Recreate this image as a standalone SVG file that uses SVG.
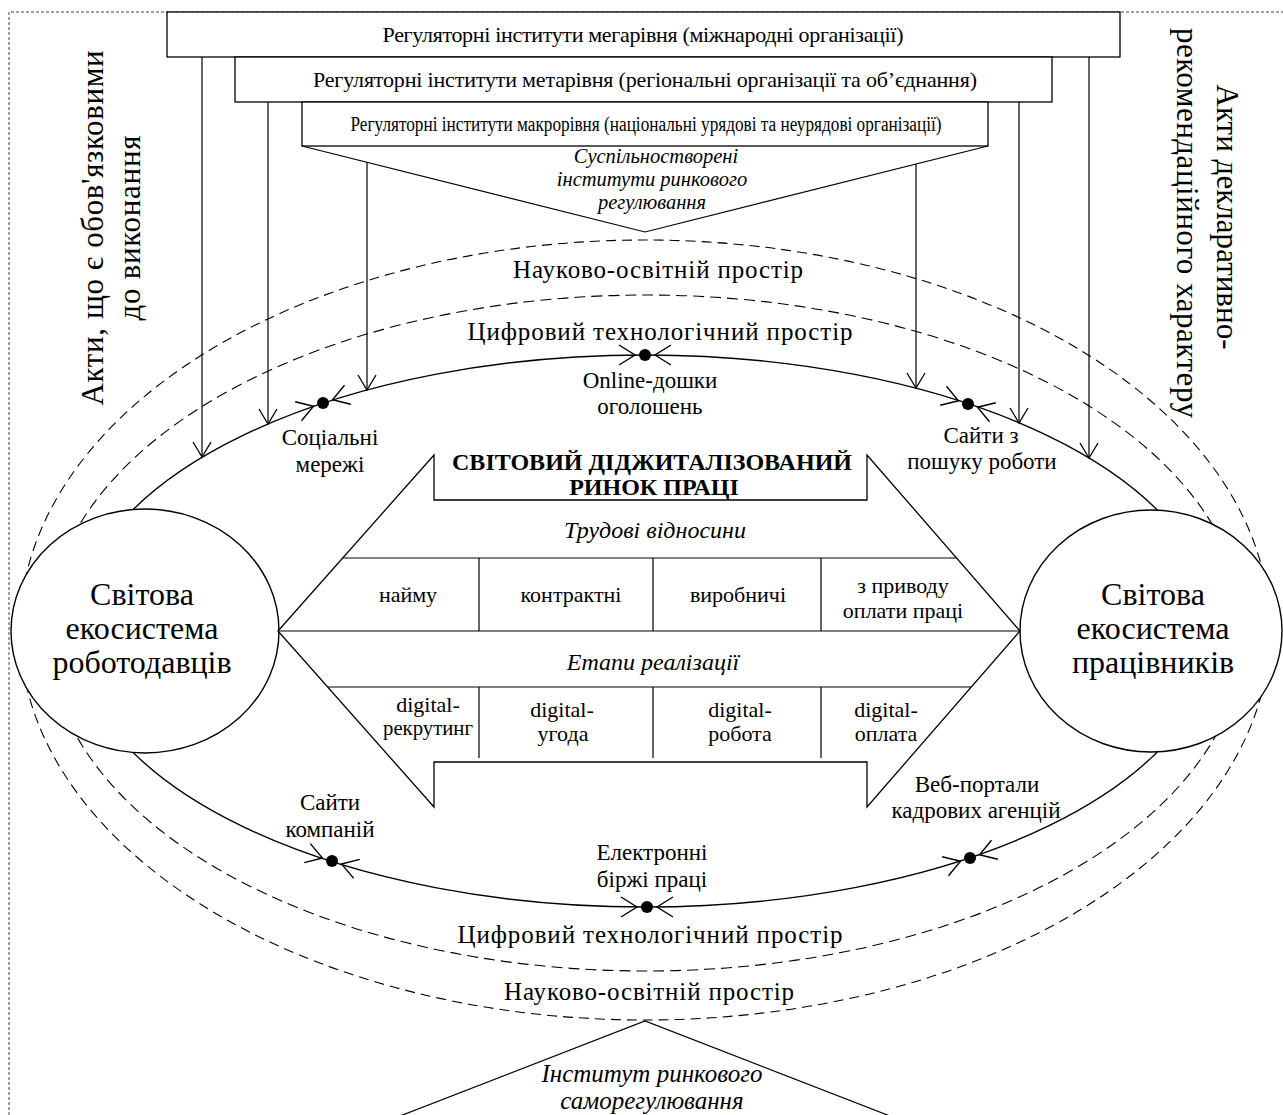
<svg xmlns="http://www.w3.org/2000/svg" width="1283" height="1115" viewBox="0 0 1283 1115">
<defs>
<style>
text{font-family:"Liberation Serif","Times New Roman",serif;fill:#000}
.box{fill:#fff;stroke:#000;stroke-width:1.3}
.ln{fill:none;stroke:#000;stroke-width:1.2}
.sol{fill:none;stroke:#000;stroke-width:1.4}
.d1{fill:none;stroke:#000;stroke-width:1.1;stroke-dasharray:11 6}
.d2{fill:none;stroke:#000;stroke-width:1.1;stroke-dasharray:10 6}
.circ{fill:#fff;stroke:#000;stroke-width:1.4}
.m{text-anchor:middle}
.i{font-style:italic}
.box-t{font-size:22px}
.sp{font-size:25px}
.lbl{font-size:23px}
.cell{font-size:22px}
.sec{font-size:24px;font-style:italic}
.inst{font-size:20.5px;font-style:italic}
.self{font-size:25px;font-style:italic}
.vert{font-size:31px}
.eco{font-size:32px}
.dot{fill:#000}
</style>
<path id="va" d="M-9,-15 L0,0 L9,-15" fill="none" stroke="#000" stroke-width="1.3"/>
<path id="da" d="M-16,-10 L0,0 L-16,10" fill="none" stroke="#000" stroke-width="1.4"/>
</defs>
<rect width="1283" height="1115" fill="#fff"/>
<path id="frame" d="M9,1115 V12 H1283" fill="none" stroke="#444" stroke-width="1" stroke-dasharray="3 2"/>

<g id="spaces">
<ellipse class="d2" cx="645" cy="630" rx="625" ry="390"/>
<ellipse class="d1" cx="646" cy="633" rx="598" ry="338"/>
<ellipse class="sol" cx="645" cy="631" rx="570" ry="276"/>
<text class="sp m" x="658" y="278" textLength="290">Науково-освітній простір</text>
<text class="sp m" x="660" y="340" textLength="385">Цифровий технологічний простір</text>
<text class="sp m" x="650" y="943" textLength="385">Цифровий технологічний простір</text>
<text class="sp m" x="649" y="1000" textLength="290">Науково-освітній простір</text>
</g>

<g id="employers">
<ellipse class="circ" cx="145" cy="631" rx="134" ry="122"/>
<text class="eco m" x="142" y="605">Світова</text>
<text class="eco m" x="142" y="639">екосистема</text>
<text class="eco m" x="142" y="673">роботодавців</text>
</g>

<g id="workers">
<ellipse class="circ" cx="1151" cy="631" rx="131" ry="121"/>
<text class="eco m" x="1153" y="605">Світова</text>
<text class="eco m" x="1153" y="639">екосистема</text>
<text class="eco m" x="1153" y="673">працівників</text>
</g>

<g id="market">
<path class="box" d="M278,631 L434,455 V500 H867 V455 L1020,631 L867,807 V762 H434 V807 Z"/>
<path class="ln" d="M343,558 H956 M278,631 H1020 M328,687 H971 M479,558 V631 M653,558 V631 M821,558 V631 M479,687 V758 M653,687 V758 M821,687 V758"/>
<text class="m" x="652" y="470" font-size="24" font-weight="bold" textLength="400">СВІТОВИЙ ДІДЖИТАЛІЗОВАНИЙ</text>
<text class="m" x="654" y="495" font-size="24" font-weight="bold">РИНОК ПРАЦІ</text>
<text class="sec m" x="655" y="538">Трудові відносини</text>
<text class="cell m" x="408" y="602">найму</text>
<text class="cell m" x="571" y="602">контрактні</text>
<text class="cell m" x="738" y="602">виробничі</text>
<text class="cell m" x="903" y="593">з приводу</text>
<text class="cell m" x="903" y="618">оплати праці</text>
<text class="sec m" x="653" y="670">Етапи реалізації</text>
<text class="cell m" x="428" y="712">digital-</text>
<text class="cell m" x="428" y="735" textLength="90" lengthAdjust="spacingAndGlyphs">рекрутинг</text>
<text class="cell m" x="562" y="717">digital-</text>
<text class="cell m" x="563" y="741">угода</text>
<text class="cell m" x="740" y="717">digital-</text>
<text class="cell m" x="740" y="741">робота</text>
<text class="cell m" x="886" y="717">digital-</text>
<text class="cell m" x="886" y="741">оплата</text>
</g>

<g id="mega">
<rect class="box" x="167" y="12" width="953" height="45"/>
<text class="box-t m" x="643" y="42" textLength="521">Регуляторні інститути мегарівня (міжнародні організації)</text>
</g>
<g id="meta">
<rect class="box" x="235" y="57" width="817" height="45"/>
<text class="box-t m" x="645" y="87" textLength="664">Регуляторні інститути метарівня (регіональні організації та об’єднання)</text>
</g>
<g id="macro">
<rect class="box" x="302" y="102" width="686" height="44"/>
<text class="m" x="646" y="131" font-size="20" textLength="591" lengthAdjust="spacingAndGlyphs">Регуляторні інститути макрорівня (національні урядові та неурядові організації)</text>
</g>
<g id="co-created">
<path class="ln" d="M302,146 L645,232 L988,146"/>
<text class="inst m" x="656" y="163">Суспільностворені</text>
<text class="inst m" x="652" y="186">інститути ринкового</text>
<text class="inst m" x="652" y="209">регулювання</text>
</g>
<g id="self-regulation">
<path class="ln" d="M400,1116 L645,1021 L890,1116"/>
<text class="self m" x="652" y="1082">Інститут ринкового</text>
<text class="self m" x="652" y="1109">саморегулювання</text>
</g>

<g id="acts-binding">
<text class="vert m" transform="translate(103,228) rotate(-90)" textLength="355">Акти, що є обов'язковими</text>
<text class="vert m" transform="translate(140,228) rotate(-90)" textLength="185">до виконання</text>
</g>
<g id="acts-declarative">
<text class="vert m" transform="translate(1217,217) rotate(90)" textLength="265">Акти декларативно-</text>
<text class="vert m" transform="translate(1177,223) rotate(90)" textLength="390">рекомендаційного характеру</text>
</g>

<g id="connectors">
<path class="ln" d="M202,57 V457 M268,102 V424 M367,162 V390 M916,164 V388 M1019,102 V423 M1089,57 V458"/>
<use href="#va" x="202" y="457"/>
<use href="#va" x="268" y="424"/>
<use href="#va" x="367" y="390"/>
<use href="#va" x="916" y="388"/>
<use href="#va" x="1019" y="423"/>
<use href="#va" x="1089" y="458"/>
</g>

<g id="social">
<circle class="dot" cx="323" cy="403" r="6"/>
<use href="#da" transform="translate(313.5,406.2) rotate(-18.4)"/>
<use href="#da" transform="translate(332.5,399.8) rotate(161.6)"/>
<text class="lbl m" x="330" y="445">Соціальні</text>
<text class="lbl m" x="330" y="472">мережі</text>
</g>
<g id="online-boards">
<circle class="dot" cx="645" cy="355" r="6"/>
<use href="#da" transform="translate(635,355)"/>
<use href="#da" transform="translate(655,355) rotate(180)"/>
<text class="lbl m" x="650" y="388">Online-дошки</text>
<text class="lbl m" x="650" y="414">оголошень</text>
</g>
<g id="job-sites">
<circle class="dot" cx="968" cy="404" r="6"/>
<use href="#da" transform="translate(958.5,400.8) rotate(18.4)"/>
<use href="#da" transform="translate(977.5,407.2) rotate(198.4)"/>
<text class="lbl m" x="981" y="443">Сайти з</text>
<text class="lbl m" x="982" y="469">пошуку роботи</text>
</g>
<g id="company-sites">
<circle class="dot" cx="332" cy="861" r="6"/>
<use href="#da" transform="translate(322.5,858) rotate(17.6)"/>
<use href="#da" transform="translate(341.5,864) rotate(197.6)"/>
<text class="lbl m" x="330" y="810">Сайти</text>
<text class="lbl m" x="330" y="837">компаній</text>
</g>
<g id="job-exchanges">
<circle class="dot" cx="647" cy="907" r="6"/>
<use href="#da" transform="translate(637,907)"/>
<use href="#da" transform="translate(657,907) rotate(180)"/>
<text class="lbl m" x="652" y="860">Електронні</text>
<text class="lbl m" x="652" y="887">біржі праці</text>
</g>
<g id="agency-portals">
<circle class="dot" cx="970" cy="858" r="6"/>
<use href="#da" transform="translate(960.5,861.2) rotate(-18.5)"/>
<use href="#da" transform="translate(979.5,854.8) rotate(161.5)"/>
<text class="lbl m" x="977" y="792">Веб-портали</text>
<text class="lbl m" x="976" y="818">кадрових агенцій</text>
</g>
</svg>
